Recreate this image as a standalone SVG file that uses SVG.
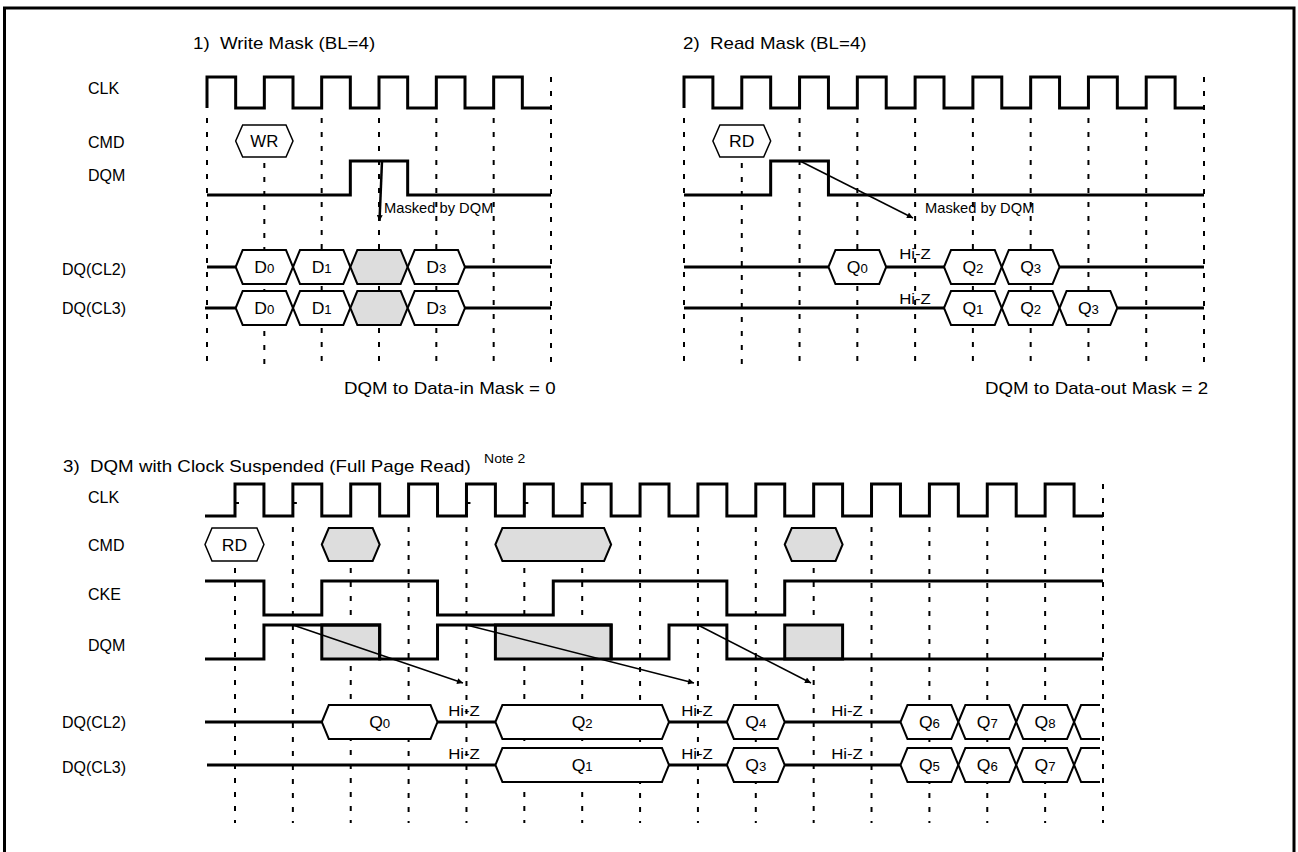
<svg xmlns="http://www.w3.org/2000/svg" width="1298" height="852" viewBox="0 0 1298 852">
<style>
.w{fill:none;stroke:#000;stroke-width:3;stroke-linejoin:miter;stroke-linecap:butt}
.g{fill:none;stroke:#000;stroke-width:2;stroke-dasharray:5 9}
.bx{fill:#fff;stroke:#000;stroke-width:2}
.gb{fill:#ddd;stroke:#000;stroke-width:2}
.cm{fill:#fff;stroke:#000;stroke-width:1.5}
.gr{fill:#ddd;stroke:#000;stroke-width:3}
.ar{fill:none;stroke:#000;stroke-width:1.5;marker-end:url(#ah)}
.t{font-family:"Liberation Sans",Arial,sans-serif;font-size:16px;fill:#000}
.lb{font-family:"Liberation Sans",Arial,sans-serif;font-size:16px;fill:#000}
.m{text-anchor:middle}
.sm{font-size:14px}
.hz{font-size:15px}
.sb{font-size:12px}
</style>
<defs>
<marker id="ah" viewBox="0 0 10 10" refX="10" refY="5" markerWidth="8" markerHeight="6" orient="auto" markerUnits="userSpaceOnUse"><path d="M0,0 L10,5 L0,10 z" fill="#000"/></marker>
</defs>
<rect width="1298" height="852" fill="#fff"/>
<path id="frame" d="M4.5,852 V8 H1294 V852" fill="none" stroke="#000" stroke-width="3"/>

<!-- ========== Section 1 ========== -->
<g id="sec1">
<text class="t" transform="translate(193,49) scale(1.17,1)">1)&#160; Write Mask (BL=4)</text>
<g id="s1-grid">
<path class="g" d="M207,118 V365 M264.33,163 V365 M321.67,118 V365 M379,118 V365 M436.33,118 V365 M493.67,118 V365 M551,77 V365"/>
</g>
<g id="s1-clk">
<text class="lb" x="88" y="94">CLK</text>
<path class="w" d="M207,108 V77 H235.67 V108 H264.33 V77 H293 V108 H321.67 V77 H350.33 V108 H379 V77 H407.67 V108 H436.33 V77 H465 V108 H493.67 V77 H522.33 V108 H551"/>
</g>
<g id="s1-cmd">
<text class="lb" x="88" y="148">CMD</text>
<polygon class="cm" points="235.67,141 242.67,125 286,125 293,141 286,157 242.67,157"/>
<text class="t m" transform="translate(264.33,147) scale(1.05,1)">WR</text>
</g>
<g id="s1-dqm">
<text class="lb" x="88" y="181">DQM</text>
<path class="w" d="M207,195 H350.33 V161 H407.67 V195 H551"/>
</g>
<g id="s1-dq2">
<text class="lb" x="62" y="275">DQ(CL2)</text>
<path class="w" d="M207,267 H235.67 M465,267 H551"/>
<polygon class="bx" points="235.67,267 242.67,250 286,250 293,267 286,284 242.67,284"/>
<polygon class="bx" points="293,267 300,250 343.33,250 350.33,267 343.33,284 300,284"/>
<polygon class="gb" points="350.33,267 357.33,250 400.67,250 407.67,267 400.67,284 357.33,284"/>
<polygon class="bx" points="407.67,267 414.67,250 458,250 465,267 458,284 414.67,284"/>
<text class="t m" transform="translate(264.33,273) scale(1.1,1)">D<tspan class="sb">0</tspan></text>
<text class="t m" transform="translate(321.67,273) scale(1.1,1)">D<tspan class="sb">1</tspan></text>
<text class="t m" transform="translate(436.33,273) scale(1.1,1)">D<tspan class="sb">3</tspan></text>
</g>
<g id="s1-dq3">
<text class="lb" x="62" y="314">DQ(CL3)</text>
<path class="w" d="M205,308 H235.67 M465,308 H551"/>
<polygon class="bx" points="235.67,308 242.67,291 286,291 293,308 286,325 242.67,325"/>
<polygon class="bx" points="293,308 300,291 343.33,291 350.33,308 343.33,325 300,325"/>
<polygon class="gb" points="350.33,308 357.33,291 400.67,291 407.67,308 400.67,325 357.33,325"/>
<polygon class="bx" points="407.67,308 414.67,291 458,291 465,308 458,325 414.67,325"/>
<text class="t m" transform="translate(264.33,314) scale(1.1,1)">D<tspan class="sb">0</tspan></text>
<text class="t m" transform="translate(321.67,314) scale(1.1,1)">D<tspan class="sb">1</tspan></text>
<text class="t m" transform="translate(436.33,314) scale(1.1,1)">D<tspan class="sb">3</tspan></text>
</g>
<text class="t sm" transform="translate(384,213) scale(1.05,1)">Masked by DQM</text>
<text class="t" transform="translate(344,394) scale(1.17,1)">DQM to Data-in Mask = 0</text>
</g>

<!-- ========== Section 2 ========== -->
<g id="sec2">
<text class="t" transform="translate(683,49) scale(1.17,1)">2)&#160; Read Mask (BL=4)</text>
<g id="s2-grid">
<path class="g" d="M684,118 V365 M741.78,163 V365 M799.56,118 V365 M857.33,118 V365 M915.11,118 V365 M972.89,118 V365 M1030.67,118 V365 M1088.44,118 V365 M1146.22,118 V365 M1204,77 V365"/>
</g>
<g id="s2-clk">
<path class="w" d="M684,108 V77 H712.89 V108 H741.78 V77 H770.67 V108 H799.56 V77 H828.44 V108 H857.33 V77 H886.22 V108 H915.11 V77 H944 V108 H972.89 V77 H1001.78 V108 H1030.67 V77 H1059.56 V108 H1088.44 V77 H1117.33 V108 H1146.22 V77 H1175.11 V108 H1204"/>
</g>
<g id="s2-cmd">
<polygon class="cm" points="712.89,141 719.89,125 763.67,125 770.67,141 763.67,157 719.89,157"/>
<text class="t m" transform="translate(741.78,147) scale(1.1,1)">RD</text>
</g>
<g id="s2-dqm">
<path class="w" d="M684,195 H770.67 V161 H828.44 V195 H1204"/>
</g>
<g id="s2-dq2">
<path class="w" d="M684,267 H828.44 M886.22,267 H944 M1059.56,267 H1204"/>
<polygon class="bx" points="828.44,267 835.44,250 879.22,250 886.22,267 879.22,284 835.44,284"/>
<polygon class="bx" points="944,267 951,250 994.78,250 1001.78,267 994.78,284 951,284"/>
<polygon class="bx" points="1001.78,267 1008.78,250 1052.56,250 1059.56,267 1052.56,284 1008.78,284"/>
<text class="t m" transform="translate(857.33,273) scale(1.1,1)">Q<tspan class="sb">0</tspan></text>
<text class="t m" transform="translate(972.89,273) scale(1.1,1)">Q<tspan class="sb">2</tspan></text>
<text class="t m" transform="translate(1030.67,273) scale(1.1,1)">Q<tspan class="sb">3</tspan></text>
<text class="t m hz" transform="translate(915,259) scale(1.12,1)">Hi-Z</text>
</g>
<g id="s2-dq3">
<path class="w" d="M684,308 H944 M1117.33,308 H1204"/>
<polygon class="bx" points="944,308 951,291 994.78,291 1001.78,308 994.78,325 951,325"/>
<polygon class="bx" points="1001.78,308 1008.78,291 1052.56,291 1059.56,308 1052.56,325 1008.78,325"/>
<polygon class="bx" points="1059.56,308 1066.56,291 1110.33,291 1117.33,308 1110.33,325 1066.56,325"/>
<text class="t m" transform="translate(972.89,314) scale(1.1,1)">Q<tspan class="sb">1</tspan></text>
<text class="t m" transform="translate(1030.67,314) scale(1.1,1)">Q<tspan class="sb">2</tspan></text>
<text class="t m" transform="translate(1088.44,314) scale(1.1,1)">Q<tspan class="sb">3</tspan></text>
<text class="t m hz" transform="translate(915,304) scale(1.12,1)">Hi-Z</text>
</g>
<text class="t sm" transform="translate(925,213) scale(1.05,1)">Masked by DQM</text>
<text class="t" transform="translate(985,394) scale(1.17,1)">DQM to Data-out Mask = 2</text>
</g>

<!-- ========== Section 3 ========== -->
<g id="sec3">
<text class="t" transform="translate(63,472) scale(1.17,1)">3)&#160; DQM with Clock Suspended (Full Page Read)</text>
<text class="t sb" transform="translate(484,463) scale(1.17,1)">Note 2</text>
<g id="s3-grid">
<path class="g" d="M235,568 V823 M292.87,527 V823 M350.73,568 V823 M408.6,527 V823 M466.47,527 V823 M524.33,568 V823 M582.2,568 V823 M640.07,527 V823 M697.93,527 V823 M755.8,527 V823 M813.67,568 V823 M871.53,527 V823 M929.4,527 V823 M987.27,527 V823 M1045.13,527 V823 M1103,484 V823"/>
<path d="M235,503 h4 M292.87,503 h4 M466.47,503 h4 M524.33,503 h4 M582.2,503 h4" stroke="#000" stroke-width="2"/>
</g>
<g id="s3-clk">
<text class="lb" x="88" y="503">CLK</text>
<path class="w" d="M205,516 H235 V484 H263.93 V516 H292.87 V484 H321.8 V516 H350.73 V484 H379.67 V516 H408.6 V484 H437.53 V516 H466.47 V484 H495.4 V516 H524.33 V484 H553.27 V516 H582.2 V484 H611.13 V516 H640.07 V484 H669 V516 H697.93 V484 H726.87 V516 H755.8 V484 H784.73 V516 H813.67 V484 H842.6 V516 H871.53 V484 H900.47 V516 H929.4 V484 H958.33 V516 H987.27 V484 H1016.2 V516 H1045.13 V484 H1074.07 V516 H1103"/>
</g>
<g id="s3-cmd">
<text class="lb" x="88" y="551">CMD</text>
<polygon class="cm" points="205,544.5 212,528 256.93,528 263.93,544.5 256.93,561 212,561"/>
<text class="t m" transform="translate(234.5,551) scale(1.1,1)">RD</text>
<polygon class="gb" points="321.8,544.5 328.8,528 372.67,528 379.67,544.5 372.67,561 328.8,561"/>
<polygon class="gb" points="495.4,544.5 502.4,528 604.13,528 611.13,544.5 604.13,561 502.4,561"/>
<polygon class="gb" points="784.73,544.5 791.73,528 835.6,528 842.6,544.5 835.6,561 791.73,561"/>
</g>
<g id="s3-cke">
<text class="lb" x="88" y="600">CKE</text>
<path class="w" d="M205,581 H263.93 V615 H321.8 V581 H437.53 V615 H553.27 V581 H726.87 V615 H784.73 V581 H1103"/>
</g>
<g id="s3-dqm">
<text class="lb" x="88" y="651">DQM</text>
<rect class="gr" x="321.8" y="625" width="57.87" height="34"/>
<rect class="gr" x="495.4" y="625" width="115.73" height="34"/>
<rect class="gr" x="784.73" y="625" width="57.87" height="34"/>
<path class="w" d="M205,659 H263.93 V625 H379.67 V659 H437.53 V625 H611.13 V659 H669 V625 H726.87 V659 H1103"/>
</g>
<g id="s3-dq2">
<text class="lb" x="62" y="728">DQ(CL2)</text>
<path class="w" d="M205,722 H321.8 M437.53,722 H495.4 M669,722 H726.87 M784.73,722 H900.47"/>
<polygon class="bx" points="321.8,722 328.8,705 430.53,705 437.53,722 430.53,739 328.8,739"/>
<polygon class="bx" points="495.4,722 502.4,705 662,705 669,722 662,739 502.4,739"/>
<polygon class="bx" points="726.87,722 733.87,705 777.73,705 784.73,722 777.73,739 733.87,739"/>
<polygon class="bx" points="900.47,722 907.47,705 951.33,705 958.33,722 951.33,739 907.47,739"/>
<polygon class="bx" points="958.33,722 965.33,705 1009.2,705 1016.2,722 1009.2,739 965.33,739"/>
<polygon class="bx" points="1016.2,722 1023.2,705 1067.07,705 1074.07,722 1067.07,739 1023.2,739"/>
<path class="bx" d="M1100,705 H1081.07 L1074.07,722 L1081.07,739 H1100" fill="none"/>
<text class="t m" transform="translate(379.67,728) scale(1.1,1)">Q<tspan class="sb">0</tspan></text>
<text class="t m" transform="translate(582.2,728) scale(1.1,1)">Q<tspan class="sb">2</tspan></text>
<text class="t m" transform="translate(755.8,728) scale(1.1,1)">Q<tspan class="sb">4</tspan></text>
<text class="t m" transform="translate(929.4,728) scale(1.1,1)">Q<tspan class="sb">6</tspan></text>
<text class="t m" transform="translate(987.27,728) scale(1.1,1)">Q<tspan class="sb">7</tspan></text>
<text class="t m" transform="translate(1045.13,728) scale(1.1,1)">Q<tspan class="sb">8</tspan></text>
<text class="t m hz" transform="translate(464,716) scale(1.12,1)">Hi-Z</text>
<text class="t m hz" transform="translate(697,716) scale(1.12,1)">Hi-Z</text>
<text class="t m hz" transform="translate(847,716) scale(1.12,1)">Hi-Z</text>
</g>
<g id="s3-dq3">
<text class="lb" x="62" y="773">DQ(CL3)</text>
<path class="w" d="M207,765 H495.4 M669,765 H726.87 M784.73,765 H900.47"/>
<polygon class="bx" points="495.4,765 502.4,748 662,748 669,765 662,782 502.4,782"/>
<polygon class="bx" points="726.87,765 733.87,748 777.73,748 784.73,765 777.73,782 733.87,782"/>
<polygon class="bx" points="900.47,765 907.47,748 951.33,748 958.33,765 951.33,782 907.47,782"/>
<polygon class="bx" points="958.33,765 965.33,748 1009.2,748 1016.2,765 1009.2,782 965.33,782"/>
<polygon class="bx" points="1016.2,765 1023.2,748 1067.07,748 1074.07,765 1067.07,782 1023.2,782"/>
<path class="bx" d="M1100,748 H1081.07 L1074.07,765 L1081.07,782 H1100" fill="none"/>
<text class="t m" transform="translate(582.2,771) scale(1.1,1)">Q<tspan class="sb">1</tspan></text>
<text class="t m" transform="translate(755.8,771) scale(1.1,1)">Q<tspan class="sb">3</tspan></text>
<text class="t m" transform="translate(929.4,771) scale(1.1,1)">Q<tspan class="sb">5</tspan></text>
<text class="t m" transform="translate(987.27,771) scale(1.1,1)">Q<tspan class="sb">6</tspan></text>
<text class="t m" transform="translate(1045.13,771) scale(1.1,1)">Q<tspan class="sb">7</tspan></text>
<text class="t m hz" transform="translate(464,759) scale(1.12,1)">Hi-Z</text>
<text class="t m hz" transform="translate(697,759) scale(1.12,1)">Hi-Z</text>
<text class="t m hz" transform="translate(847,759) scale(1.12,1)">Hi-Z</text>
</g>
</g>

<!-- ========== Connectors ========== -->
<g id="connectors">
<path class="ar" style="stroke-width:2.5" d="M382,161 L379.5,221"/>
<path class="ar" d="M800,161 L913,218"/>
<path class="ar" d="M292.87,625 L463,683"/>
<path class="ar" d="M466.47,625 L694,683"/>
<path class="ar" d="M697.93,625 L811,683"/>
</g>
</svg>
